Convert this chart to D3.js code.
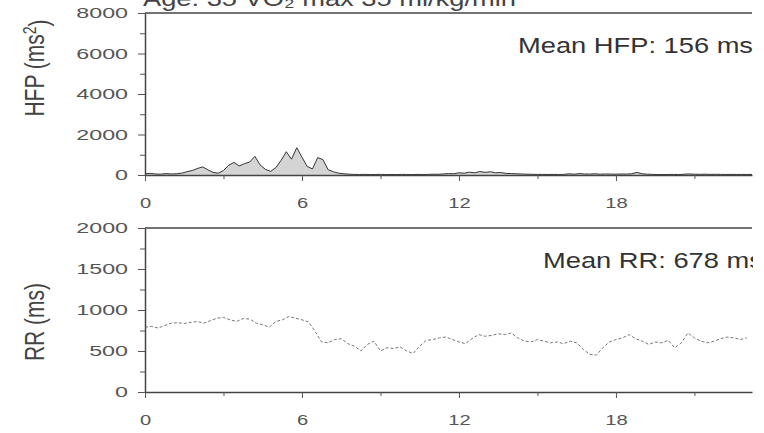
<!DOCTYPE html>
<html>
<head>
<meta charset="utf-8">
<script src="https://cdn.jsdelivr.net/npm/d3@7"></script>
<style>
  body { margin: 0; background: #fff; }
  svg { display: block; font-family: "Liberation Sans", Arial, sans-serif; }
</style>
</head>
<body>
<svg id="chart" width="764" height="433"></svg>
<script>
// sampled every 0.2 h
const hfpStep = 0.2;
const hfpValues = [
  60, 80, 50, 40, 70, 50, 60, 90, 160, 220,
  320, 400, 260, 130, 90, 220, 480, 620, 450, 560,
  640, 920, 500, 280, 180, 360, 720, 1150, 780, 1350,
  880, 420, 300, 860, 760, 260, 160, 90, 60, 40,
  30, 25, 30, 20, 25, 30, 20, 25, 20, 30,
  25, 20, 30, 25, 30, 40, 35, 50, 70, 60,
  110, 90, 140, 110, 170, 130, 160, 110, 120, 80,
  70, 60, 50, 40, 35, 30, 30, 25, 30, 25,
  30, 60, 40, 70, 50, 45, 60, 40, 50, 45,
  40, 50, 45, 60, 130, 60, 40, 30, 25, 20,
  25, 30, 20, 40, 50, 40, 35, 40, 30, 35,
  30, 25, 30, 25, 30, 25, 30
];

// sampled every 0.25 h
const rrStep = 0.25;
const rrValues = [
  790, 800, 780, 810, 840, 845, 835, 850, 860, 840,
  870, 900, 910, 880, 860, 895, 890, 840, 820, 790,
  860, 880, 920, 900, 880, 855, 740, 610, 600, 640,
  650, 590, 560, 500, 580, 620, 500, 540, 530, 550,
  500, 470, 560, 630, 640, 660, 670, 640, 610, 590,
  650, 700, 680, 690, 710, 700, 720, 660, 620, 610,
  640, 620, 600, 610, 590, 620, 600, 520, 460, 450,
  540, 610, 640, 660, 700, 650, 620, 580, 610, 600,
  630, 540, 600, 720, 660, 620, 600, 620, 650, 670,
  660, 640, 660
];

const hourTicks = [0, 6, 12, 18];
const hourMinor = [3, 9, 15, 21];
const hfpTicks = [0, 2000, 4000, 6000, 8000];
const hfpMinor = [1000, 3000, 5000, 7000];
const rrTicks = [0, 500, 1000, 1500, 2000];
const rrMinor = [250, 750, 1250, 1750];

const titleText = 'Age: 35  VO\u2082 max 35 ml/kg/min';
const hfpNote = 'Mean HFP: 156 ms';
const rrNote = 'Mean RR: 678 ms';

const svg = d3.select('#chart');
const left = 145, right = 752;

svg.append('defs').append('clipPath').attr('id', 'clip')
    .append('rect').attr('x', 0).attr('y', 0).attr('width', right + 1).attr('height', 433);

const root = svg.append('g').attr('clip-path', 'url(#clip)');

const x = d3.scaleLinear().domain([0, 23.2]).range([left, right]);
const yH = d3.scaleLinear().domain([0, 8000]).range([175, 13]);
const yR = d3.scaleLinear().domain([0, 2000]).range([392, 228]);

// widen glyphs like the scanned figure
function stretch(sel, k) {
  sel.each(function() {
    const w = this.getComputedTextLength();
    d3.select(this).attr('textLength', w * k).attr('lengthAdjust', 'spacingAndGlyphs');
  });
}

function panel(y, ticks, minor, values, step, opts) {
  const g = root.append('g');

  // top frame line
  g.append('line')
      .attr('x1', left).attr('x2', right)
      .attr('y1', y.range()[1]).attr('y2', y.range()[1])
      .attr('stroke', '#444').attr('stroke-width', 1.5);

  if (opts.fill) {
    g.append('path')
        .datum(values)
        .attr('fill', opts.fill)
        .attr('d', d3.area()
            .x((d, i) => x(i * step))
            .y0(y(0))
            .y1(d => y(d)));
  }

  g.append('path')
      .datum(values)
      .attr('fill', 'none')
      .attr('stroke', opts.color)
      .attr('stroke-width', opts.width)
      .attr('stroke-dasharray', opts.dash)
      .attr('d', d3.line()
          .x((d, i) => x(i * step))
          .y(d => y(d)));

  const yAxis = g.append('g')
      .attr('transform', `translate(${left},0)`)
      .call(d3.axisLeft(y).tickValues(ticks).tickSize(7).tickSizeOuter(0)
          .tickPadding(10).tickFormat(d3.format('d')));
  g.append('g')
      .attr('transform', `translate(${left},0)`)
      .call(d3.axisLeft(y).tickValues(minor).tickSize(5).tickFormat(''))
      .call(a => a.select('.domain').remove());

  const xAxis = g.append('g')
      .attr('transform', `translate(0,${y(0)})`)
      .call(d3.axisBottom(x).tickValues(hourTicks).tickSize(6).tickSizeOuter(0)
          .tickPadding(16).tickFormat(d3.format('d')));
  g.append('g')
      .attr('transform', `translate(0,${y(0)})`)
      .call(d3.axisBottom(x).tickValues(hourMinor).tickSize(4).tickFormat(''))
      .call(a => a.select('.domain').remove());

  g.selectAll('.domain').attr('stroke', '#444').attr('stroke-width', 1.5);
  g.selectAll('.tick line').attr('stroke', '#555');
  g.selectAll('.tick text')
      .attr('fill', '#555')
      .style('font-size', '15.5px')
      .style('font-family', '"Liberation Sans", Arial, sans-serif');
  stretch(yAxis.selectAll('.tick text'), 1.5);
  stretch(xAxis.selectAll('.tick text'), 1.3);

  const note = g.append('text')
      .attr('x', opts.noteX).attr('y', opts.noteY)
      .attr('fill', '#333')
      .style('font-size', '22px')
      .text(opts.note);
  stretch(note, 1.24);

  const lab = g.append('text')
      .attr('transform', `translate(${opts.labX},${opts.labY}) scale(1.3,1) rotate(-90)`)
      .attr('text-anchor', 'middle')
      .attr('fill', '#444')
      .style('font-size', '21px')
      .text(opts.label);
  return lab;
}

const hLab = panel(yH, hfpTicks, hfpMinor, hfpValues, hfpStep, {
  color: '#333', width: 1, dash: null, fill: '#d4d4d4',
  note: hfpNote, noteX: 518, noteY: 53,
  label: 'HFP (ms', labX: 44, labY: 68
});
hLab.append('tspan').attr('dy', '-0.45em').style('font-size', '14px').text('2');
hLab.append('tspan').attr('dy', '0.45em').text(')');

panel(yR, rrTicks, rrMinor, rrValues, rrStep, {
  color: '#777', width: 1, dash: '3,2', fill: null,
  note: rrNote, noteX: 543, noteY: 268,
  label: 'RR (ms)', labX: 44, labY: 322
});

// title sits mostly above the top edge, as in the cropped figure
const title = root.append('text')
    .attr('x', 143).attr('y', 6)
    .attr('fill', '#444')
    .style('font-size', '22px')
    .text(titleText);
stretch(title, 1.24);
</script>
</body>
</html>
